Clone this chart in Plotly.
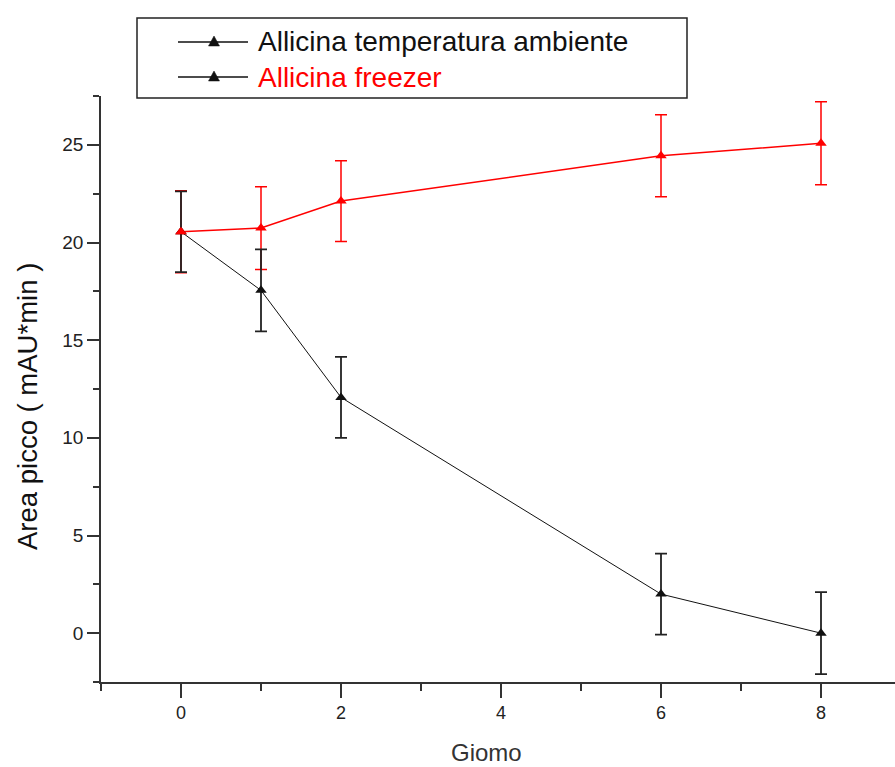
import plotly.graph_objects as go

# ---- data ----
days = [0, 1, 2, 6, 8]
ambiente = [20.55, 17.55, 12.07, 2.0, 0.0]
ambiente_err = [2.07, 2.1, 2.07, 2.07, 2.1]
freezer = [20.55, 20.74, 22.12, 24.44, 25.08]
freezer_err = [2.1, 2.12, 2.07, 2.1, 2.12]
x_ticks = [0, 2, 4, 6, 8]
y_ticks = [0, 5, 10, 15, 20, 25]
legend_labels = ["Allicina temperatura ambiente", "Allicina freezer"]
x_title = "Giomo"
y_title = "Area picco ( mAU*min )"

BLACK = "#111111"
RED = "#FF0000"
AXIS = "#333333"

W, H = 895, 767
L, R, T, B = 101, 895, 96, 682


def px(x):
    return (x - L) / (R - L)


def py(y):
    return (B - y) / (B - T)


fig = go.Figure()

fig.add_trace(go.Scatter(
    x=days, y=freezer, mode="lines+markers", name=legend_labels[1],
    line=dict(color=RED, width=1.5),
    marker=dict(symbol="triangle-up", size=10, color=RED),
    error_y=dict(type="data", array=freezer_err, visible=True,
                 color=RED, thickness=1.5, width=6),
    showlegend=False,
))
fig.add_trace(go.Scatter(
    x=days, y=ambiente, mode="lines+markers", name=legend_labels[0],
    line=dict(color=BLACK, width=1),
    marker=dict(symbol="triangle-up", size=10, color=BLACK),
    error_y=dict(type="data", array=ambiente_err, visible=True,
                 color="#222222", thickness=1.8, width=6),
    showlegend=False,
))
# red marker on top at the shared start point
fig.add_trace(go.Scatter(
    x=days[:1], y=freezer[:1], mode="markers",
    marker=dict(symbol="triangle-up", size=10, color=RED),
    showlegend=False, hoverinfo="skip",
))

# ---- manual legend ----
shapes = []
annotations = []
shapes.append(dict(type="rect", xref="paper", yref="paper",
                   x0=px(137), x1=px(687), y0=py(98), y1=py(18),
                   line=dict(color="#222222", width=1.5), fillcolor="white"))
rows_y = [42, 77]
text_colors = [BLACK, RED]
for yy, lab, col in zip(rows_y, legend_labels, text_colors):
    shapes.append(dict(type="line", xref="paper", yref="paper",
                       x0=px(178), x1=px(248), y0=py(yy), y1=py(yy),
                       line=dict(color=BLACK, width=1.5)))
    cx = 214
    shapes.append(dict(type="path", xref="paper", yref="paper",
                       path=f"M {px(cx-5.5)},{py(yy+4)} L {px(cx+5.5)},{py(yy+4)} L {px(cx)},{py(yy-6)} Z",
                       fillcolor=BLACK, line=dict(color=BLACK, width=0.5)))
    annotations.append(dict(xref="paper", yref="paper", x=px(256), y=py(yy),
                            xanchor="left", yanchor="middle", showarrow=False,
                            text=lab, font=dict(family="Arial", size=28, color=col)))

annotations.append(dict(xref="paper", yref="paper", x=px(486), y=py(752),
                        xanchor="center", yanchor="middle", showarrow=False,
                        text=x_title, font=dict(family="Arial", size=24, color=AXIS)))
annotations.append(dict(xref="paper", yref="paper", x=px(27), y=py(407),
                        xanchor="center", yanchor="middle", showarrow=False,
                        textangle=-90,
                        text=y_title, font=dict(family="Arial", size=27.5, color=BLACK)))

fig.update_layout(
    width=W, height=H,
    margin=dict(l=L, r=W - R, t=T, b=H - B),
    paper_bgcolor="white", plot_bgcolor="white",
    showlegend=False,
    shapes=shapes, annotations=annotations,
    font=dict(family="Arial", color=AXIS),
)
fig.update_xaxes(
    range=[-1, 8.925], tickvals=x_ticks, ticktext=[str(v) for v in x_ticks],
    showgrid=False, zeroline=False, showline=True, linecolor=AXIS, linewidth=1.5,
    ticks="outside", ticklen=14, tickwidth=1.5, tickcolor=AXIS,
    minor=dict(tick0=-1, dtick=1, ticks="outside", ticklen=7, tickwidth=1.5, tickcolor=AXIS),
    tickfont=dict(family="Arial", size=18, color="#222222"),
)
fig.update_yaxes(
    range=[-2.5, 27.5], tickvals=y_ticks, ticktext=[str(v) for v in y_ticks],
    showgrid=False, zeroline=False, showline=True, linecolor=AXIS, linewidth=1.5,
    ticks="outside", ticklen=12, tickwidth=1.5, tickcolor=AXIS,
    minor=dict(tick0=0, dtick=2.5, ticks="outside", ticklen=6, tickwidth=1.5, tickcolor=AXIS),
    tickfont=dict(family="Arial", size=19, color="#222222"),
)

fig.write_html("out.html")
